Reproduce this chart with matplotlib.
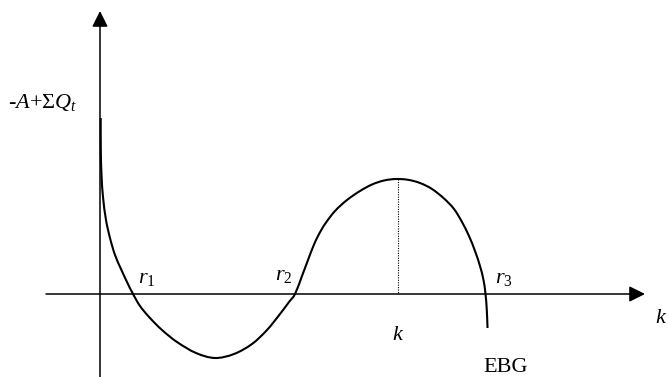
import matplotlib
matplotlib.use("Agg")
import matplotlib.pyplot as plt
from matplotlib.path import Path
from matplotlib.patches import PathPatch
import numpy as np

plt.rcParams['mathtext.fontset'] = 'custom'
plt.rcParams['mathtext.rm'] = 'Liberation Serif'
plt.rcParams['mathtext.it'] = 'Liberation Serif:italic'
plt.rcParams['font.family'] = ['Liberation Serif', 'DejaVu Serif']

W, H = 668, 377

# Curve (pixel-space coordinates, y downward)
curve_x = [100.7, 100.8, 101.5, 103, 106, 110, 115, 121, 127, 132.5, 140, 150, 162, 177, 196,
           215, 234, 252, 267, 280, 289, 295, 302, 308, 313, 318, 325, 335, 347, 360,
           372, 384, 396, 408, 420, 432, 444, 454, 462, 469, 475, 480, 483.5, 485.5,
           486.8, 487.5]
curve_y = [118, 150, 175, 197, 220, 238, 255, 269, 282, 293, 306, 318, 330, 342, 353,
           358, 354, 344, 330, 314, 302, 294, 276, 260, 247, 236, 224, 211, 200, 191,
           184.5, 180.5, 179, 179.8, 183, 189, 198.5, 209, 222, 236, 251, 266, 280, 294,
           310, 328]

origin_x, origin_y = 100, 294
xaxis_start, xaxis_end = 46, 645
yaxis_start, yaxis_end = 377, 11
peak_x, peak_y = 398, 179


def smooth_path(xs, ys):
    """Catmull-Rom through the sampled points, drawn as cubic Bezier segments."""
    P = np.column_stack([xs, ys]).astype(float)
    Pe = np.vstack([P[0], P, P[-1]])
    verts = [P[0]]
    codes = [Path.MOVETO]
    for i in range(1, len(Pe) - 2):
        p0, p1, p2, p3 = Pe[i - 1], Pe[i], Pe[i + 1], Pe[i + 2]
        c1 = p1 + (p2 - p0) / 6.0
        c2 = p2 - (p3 - p1) / 6.0
        verts += [c1, c2, p2]
        codes += [Path.CURVE4] * 3
    return Path(verts, codes)


fig = plt.figure(figsize=(W / 100, H / 100), dpi=100)
ax = fig.add_axes([0, 0, 1, 1])
ax.set_xlim(0, W)
ax.set_ylim(H, 0)
ax.axis('off')

arrow = dict(arrowstyle='-|>,head_length=0.8,head_width=0.4', mutation_scale=12,
             lw=1.1, color='black', shrinkA=0, shrinkB=0)
ax.annotate('', xy=(xaxis_end, origin_y), xytext=(xaxis_start, origin_y), arrowprops=arrow)
ax.annotate('', xy=(origin_x, yaxis_end), xytext=(origin_x, yaxis_start), arrowprops=arrow)

ax.add_patch(PathPatch(smooth_path(curve_x, curve_y), facecolor='none',
                       edgecolor='black', lw=1.5, capstyle='butt', joinstyle='round'))
ax.plot([peak_x, peak_x], [peak_y, origin_y], color='black', lw=0.8, linestyle=(0, (1, 1.2)))

fs = 16
ax.text(8, 108, r'-$A$+Σ$Q_t$', fontsize=fs, va='baseline', ha='left')
ax.text(138, 283, r'$r_1$', fontsize=fs, va='baseline', ha='left')
ax.text(275, 280, r'$r_2$', fontsize=fs, va='baseline', ha='left')
ax.text(495, 283, r'$r_3$', fontsize=fs, va='baseline', ha='left')
ax.text(392, 340, r'$k$', fontsize=fs, va='baseline', ha='left')
ax.text(655, 323, r'$k$', fontsize=fs, va='baseline', ha='left')
ax.text(483, 372, 'EBG', fontsize=fs, va='baseline', ha='left')

fig.savefig('out.png', dpi=100, facecolor='white')
